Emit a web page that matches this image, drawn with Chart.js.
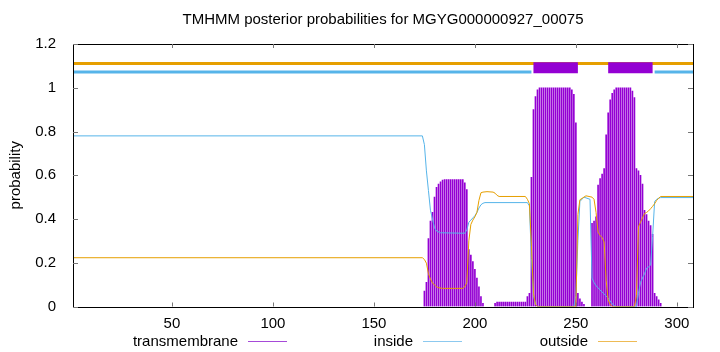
<!DOCTYPE html>
<html>
<head>
<meta charset="utf-8">
<script src="https://cdn.jsdelivr.net/npm/chart.js@4"></script>
<style>
  html, body { margin: 0; padding: 0; background: #fff; }
</style>
</head>
<body>
<canvas id="c" width="720" height="352"></canvas>
<script>
// sequence and axis
const seqStart = 1;
const seqEnd = 308;
const xTicks = [50, 100, 150, 200, 250, 300];
const yMax = 1.2;
const yStep = 0.2;

// posterior probability of transmembrane helix, per residue (zero elsewhere)
const tmProb = [
  [175, 0.07], [176, 0.11], [177, 0.31], [178, 0.39], [179, 0.43], [180, 0.50],
  [181, 0.545], [182, 0.56], [183, 0.57], [184, 0.578], [185, 0.58], [186, 0.58],
  [187, 0.58], [188, 0.58], [189, 0.58], [190, 0.58], [191, 0.58], [192, 0.58],
  [193, 0.58], [194, 0.58], [195, 0.565], [196, 0.535], [197, 0.26], [198, 0.235],
  [199, 0.205], [200, 0.17], [201, 0.13], [202, 0.09], [203, 0.045], [204, 0.015],
  [210, 0.015], [211, 0.02], [212, 0.02], [213, 0.02], [214, 0.02], [215, 0.02],
  [216, 0.02], [217, 0.02], [218, 0.02], [219, 0.02], [220, 0.02], [221, 0.02],
  [222, 0.02], [223, 0.02], [224, 0.02], [225, 0.02], [226, 0.045], [227, 0.06],
  [228, 0.59], [229, 0.90], [230, 0.96], [231, 0.99], [232, 1.0], [233, 1.0],
  [234, 1.0], [235, 1.0], [236, 1.0], [237, 1.0], [238, 1.0], [239, 1.0],
  [240, 1.0], [241, 1.0], [242, 1.0], [243, 1.0], [244, 1.0], [245, 1.0],
  [246, 1.0], [247, 1.0], [248, 0.99], [249, 0.97], [250, 0.84], [251, 0.06],
  [252, 0.035], [253, 0.02], [254, 0.01],
  [258, 0.38], [259, 0.39], [260, 0.41], [261, 0.555], [262, 0.585], [263, 0.605],
  [264, 0.63], [265, 0.785], [266, 0.885], [267, 0.945], [268, 0.975], [269, 0.99],
  [270, 1.0], [271, 1.0], [272, 1.0], [273, 1.0], [274, 1.0], [275, 1.0],
  [276, 1.0], [277, 1.0], [278, 0.985], [279, 0.955], [280, 0.63], [281, 0.62],
  [282, 0.60], [283, 0.56], [284, 0.44], [285, 0.42], [286, 0.39], [287, 0.37],
  [288, 0.33], [289, 0.06], [290, 0.045], [291, 0.03], [292, 0.015]
];

// posterior probability of inside (residue, probability)
const insideProb = [
  [1, 0.78], [174, 0.78], [175, 0.74], [176, 0.62], [177, 0.53], [178, 0.44],
  [179, 0.40], [180, 0.36], [181, 0.345], [183, 0.337], [195, 0.335], [196, 0.35],
  [197, 0.385], [198, 0.395], [199, 0.405], [200, 0.415], [201, 0.43], [202, 0.45],
  [203, 0.465], [204, 0.472], [205, 0.475], [226, 0.475], [227, 0.46], [228, 0.22],
  [229, 0.05], [230, 0.01], [231, 0], [249, 0], [250, 0.05], [251, 0.30],
  [252, 0.48], [254, 0.50], [257, 0.49], [258, 0.13], [259, 0.11], [260, 0.095],
  [261, 0.085], [262, 0.075], [263, 0.066], [264, 0.057], [265, 0.048], [266, 0.038],
  [267, 0.025], [268, 0.012], [269, 0.004], [270, 0], [280, 0], [281, 0.06],
  [282, 0.11], [283, 0.13], [284, 0.15], [285, 0.175], [286, 0.18], [287, 0.19],
  [288, 0.32], [289, 0.48], [290, 0.49], [291, 0.495], [292, 0.498], [308, 0.498]
];

// posterior probability of outside (residue, probability)
const outsideProb = [
  [1, 0.223], [174, 0.223], [175, 0.215], [176, 0.198], [177, 0.15], [178, 0.125],
  [179, 0.108], [180, 0.098], [181, 0.09], [182, 0.086], [184, 0.083], [194, 0.083],
  [195, 0.09], [196, 0.11], [197, 0.30], [198, 0.375], [199, 0.395], [200, 0.41],
  [201, 0.43], [202, 0.485], [203, 0.52], [204, 0.523], [206, 0.525], [209, 0.523],
  [210, 0.518], [211, 0.508], [212, 0.503], [225, 0.503], [226, 0.49], [227, 0.47],
  [228, 0.28], [229, 0.06], [230, 0.01], [231, 0], [250, 0], [251, 0.42],
  [252, 0.488], [254, 0.50], [255, 0.506], [258, 0.50], [259, 0.49], [260, 0.43],
  [261, 0.34], [262, 0.325], [263, 0.315], [264, 0.295], [265, 0.12], [266, 0.03],
  [267, 0.008], [268, 0], [279, 0], [280, 0.05], [281, 0.365], [282, 0.385],
  [283, 0.405], [284, 0.425], [285, 0.43], [286, 0.437], [287, 0.447], [288, 0.458],
  [289, 0.47], [290, 0.485], [291, 0.495], [292, 0.503], [308, 0.503]
];

// predicted topology shown above the curves
const outsideSegments = [[1, 308]];
const insideSegments = [[1, 228], [289, 308]];
const helixSegments = [[229, 251], [266, 288]];
const outsideLevel = 1.111;
const insideLevel = 1.072;
const helixLevel = 1.091;

const TM_COLOR = "#9400d3";
const IN_COLOR = "#56b4e9";
const OUT_COLOR = "#e69f00";
// sample line colours in the key (thin lines look paler in the original)
const KEY_COLORS = ["#a64ad8", "#8cc9ef", "#eebb55"];
const FONT = "'Liberation Sans', Arial, sans-serif";

// turn [start, end] segments into a broken line
function segmentPoints(segs, level) {
  const pts = [];
  segs.forEach((s, i) => {
    if (i > 0) pts.push({ x: (segs[i - 1][1] + s[0]) / 2, y: null });
    pts.push({ x: s[0], y: level }, { x: s[1], y: level });
  });
  return pts;
}

const toXY = arr => arr.map(p => ({ x: p[0], y: p[1] }));

// gnuplot style frame, inward ticks on all four sides, and key under the axis
const gnuplotFrame = {
  id: "gnuplotFrame",
  afterDraw(chart) {
    const { ctx, chartArea: a, scales } = chart;
    ctx.save();
    ctx.strokeStyle = "#000";
    ctx.lineWidth = 1;
    ctx.strokeRect(Math.round(a.left) + 0.5, Math.round(a.top) + 0.5,
      Math.round(a.right - a.left), Math.round(a.bottom - a.top));

    ctx.strokeStyle = "#777";
    ctx.beginPath();
    scales.x.ticks.forEach(t => {
      const px = Math.round(scales.x.getPixelForValue(t.value)) + 0.5;
      ctx.moveTo(px, a.bottom); ctx.lineTo(px, a.bottom - 4);
      ctx.moveTo(px, a.top); ctx.lineTo(px, a.top + 4);
    });
    scales.y.ticks.forEach(t => {
      const py = Math.round(scales.y.getPixelForValue(t.value)) + 0.5;
      ctx.moveTo(a.left, py); ctx.lineTo(a.left + 5, py);
      ctx.moveTo(a.right, py); ctx.lineTo(a.right - 5, py);
    });
    ctx.stroke();

    // key: text right aligned, then a short sample line
    ctx.font = "15px " + FONT;
    ctx.textAlign = "right";
    ctx.textBaseline = "middle";
    const keyY = 341.5;
    chart.data.datasets.slice(0, 3).forEach((ds, i) => {
      const right = 238 + 175 * i;
      ctx.fillStyle = "#000";
      ctx.fillText(ds.label, right, keyY);
      ctx.strokeStyle = KEY_COLORS[i];
      ctx.lineWidth = 1;
      ctx.beginPath();
      ctx.moveTo(right + 10, keyY);
      ctx.lineTo(right + 49, keyY);
      ctx.stroke();
    });
    ctx.restore();
  }
};

new Chart(document.getElementById("c"), {
  data: {
    datasets: [
      {
        type: "bar",
        label: "transmembrane",
        data: toXY(tmProb),
        backgroundColor: TM_COLOR,
        borderWidth: 0,
        barThickness: 1,
        order: 3
      },
      {
        type: "line",
        label: "inside",
        data: toXY(insideProb),
        borderColor: IN_COLOR,
        borderWidth: 1,
        pointRadius: 0,
        tension: 0,
        order: 2
      },
      {
        type: "line",
        label: "outside",
        data: toXY(outsideProb),
        borderColor: OUT_COLOR,
        borderWidth: 1,
        pointRadius: 0,
        tension: 0,
        order: 1
      },
      {
        type: "line",
        label: "outside topology",
        data: segmentPoints(outsideSegments, outsideLevel),
        borderColor: OUT_COLOR,
        borderWidth: 3,
        borderCapStyle: "butt",
        pointRadius: 0,
        spanGaps: false,
        order: 6
      },
      {
        type: "line",
        label: "inside topology",
        data: segmentPoints(insideSegments, insideLevel),
        borderColor: IN_COLOR,
        borderWidth: 3,
        borderCapStyle: "butt",
        pointRadius: 0,
        spanGaps: false,
        order: 5
      },
      {
        type: "line",
        label: "helix topology",
        data: segmentPoints(helixSegments, helixLevel),
        borderColor: TM_COLOR,
        borderWidth: 11,
        borderCapStyle: "butt",
        pointRadius: 0,
        spanGaps: false,
        order: 0
      }
    ]
  },
  options: {
    responsive: false,
    animation: false,
    layout: { padding: { left: 0, right: 27, top: 0, bottom: 0 } },
    plugins: {
      legend: { display: false },
      tooltip: { enabled: false },
      title: {
        display: true,
        text: "TMHMM posterior probabilities for MGYG000000927_00075",
        fullSize: false,
        color: "#000",
        font: { family: FONT, size: 15, weight: "normal" },
        padding: { top: 11, bottom: 15 }
      }
    },
    scales: {
      x: {
        type: "linear",
        min: seqStart,
        max: seqEnd,
        offset: false,
        grid: { display: false },
        border: { display: false },
        afterBuildTicks: s => { s.ticks = xTicks.map(v => ({ value: v })); },
        afterFit: s => { s.height = 45.5; },
        ticks: {
          color: "#000",
          padding: 0,
          maxRotation: 0,
          font: { family: FONT, size: 15 }
        }
      },
      y: {
        min: 0,
        max: yMax,
        grid: { display: false },
        border: { display: false },
        afterFit: s => { s.width = 73; },
        ticks: {
          stepSize: yStep,
          color: "#000",
          padding: 9,
          font: { family: FONT, size: 15 },
          callback: v => String(Number(v.toFixed(1)))
        },
        title: {
          display: true,
          text: "probability",
          color: "#000",
          padding: { top: 7, bottom: 0 },
          font: { family: FONT, size: 15 }
        }
      }
    }
  },
  plugins: [gnuplotFrame]
});
</script>
</body>
</html>
